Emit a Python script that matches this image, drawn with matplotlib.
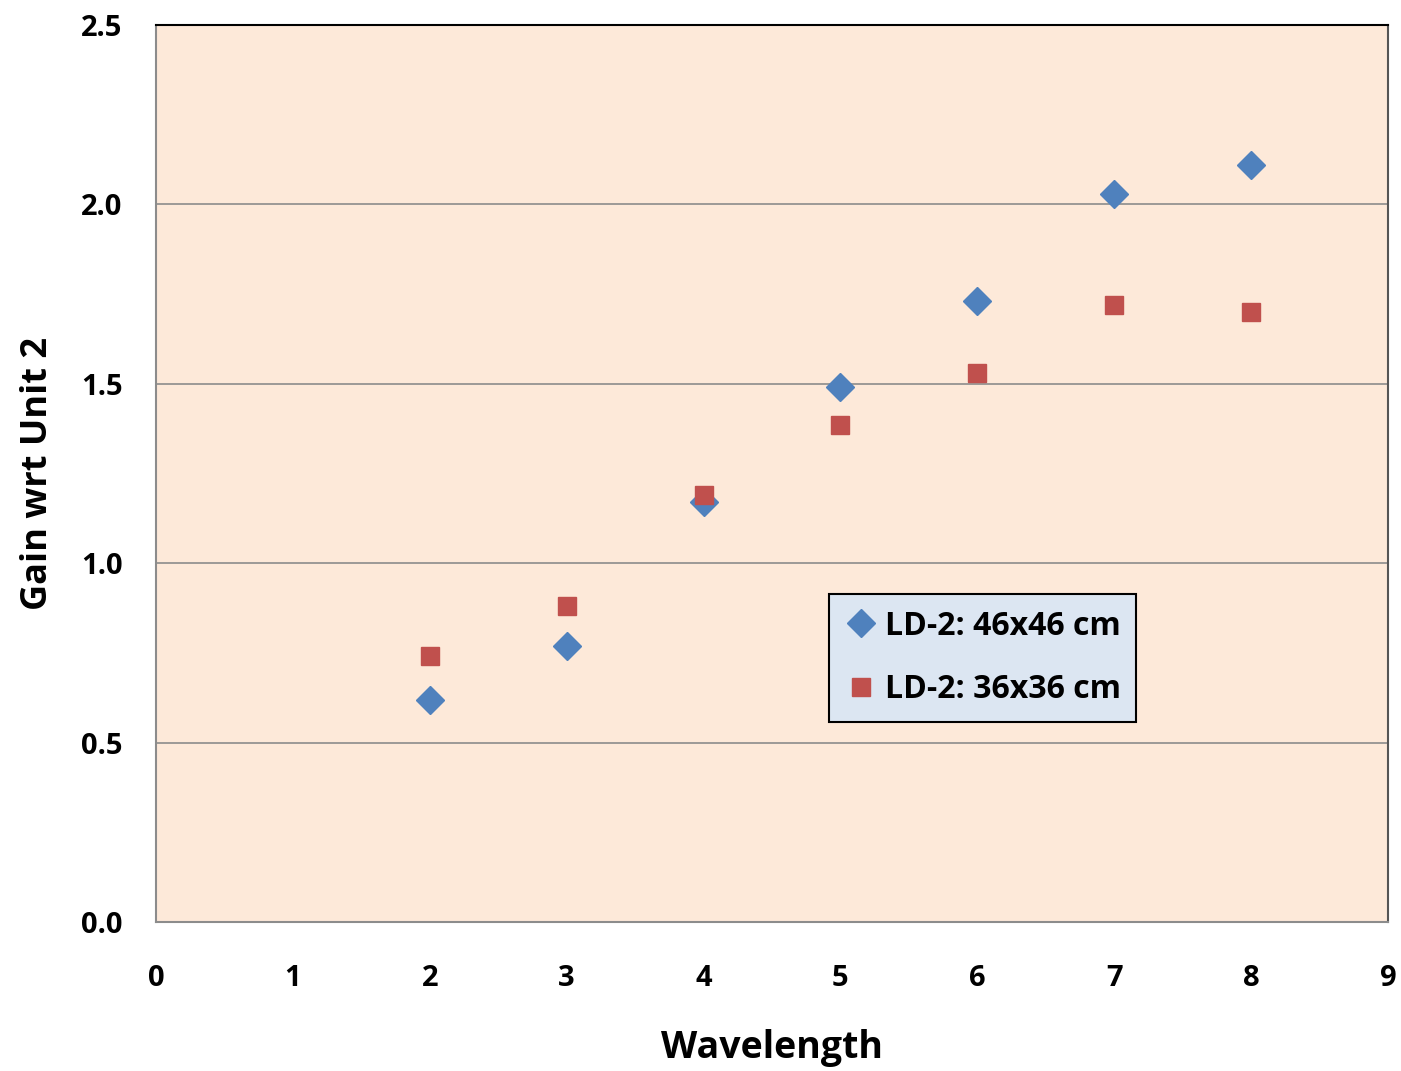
import numpy as np
from matplotlib import pyplot as plt

plt.rcParams['font.family'] = ['Open Sans', 'DejaVu Sans']

wavelength = [2, 3, 4, 5, 6, 7, 8]
gain_46 = [0.62, 0.77, 1.17, 1.49, 1.73, 2.03, 2.11]
gain_36 = [0.74, 0.88, 1.19, 1.385, 1.53, 1.72, 1.70]
labels = ["LD-2: 46x46 cm", "LD-2: 36x36 cm"]

fig = plt.figure(figsize=(14.01, 10.71), dpi=100)
ax = fig.add_axes([0.1113, 0.1391, 0.8794, 0.8376])
ax.set_facecolor("#FDE9D9")

ax.plot(wavelength, gain_46, "D", color="#4F81BD", markersize=14, label=labels[0], zorder=3)
ax.plot(wavelength, gain_36, "s", color="#C0504D", markersize=13, label=labels[1], zorder=3)

ax.set_xlim(0, 9)
ax.set_ylim(0, 2.5)
ax.set_xticks(range(0, 10))
ax.set_yticks(np.arange(0, 2.51, 0.5))
ax.set_yticklabels(["%.1f" % v for v in np.arange(0, 2.51, 0.5)])
ax.yaxis.grid(True, color="#8C8C8C", linewidth=1.2)
ax.set_axisbelow(True)
ax.tick_params(length=0, labelsize=21)
for t in ax.get_xticklabels() + ax.get_yticklabels():
    t.set_fontweight("bold")
ax.tick_params(axis="y", pad=24)
ax.tick_params(axis="x", pad=30)

ax.spines["left"].set_color("#8C8C8C")
ax.spines["bottom"].set_color("#8C8C8C")
ax.spines["top"].set_color("#000000")
ax.spines["right"].set_color("#555555")
for s in ax.spines.values():
    s.set_linewidth(1.5)

ax.set_xlabel("Wavelength", fontsize=27, fontweight="bold", labelpad=26)
ax.set_ylabel("Gain wrt Unit 2", fontsize=26, fontweight="bold", labelpad=18)

leg = ax.legend(loc="upper left", bbox_to_anchor=(0.546, 0.366), fontsize=23, frameon=True,
                fancybox=False, edgecolor="#000000", facecolor="#DCE6F2", framealpha=1,
                handletextpad=0.25, handlelength=1.0, labelspacing=0.95, borderpad=0.5,
                borderaxespad=0)
for t in leg.get_texts():
    t.set_fontweight("bold")
leg.get_frame().set_linewidth(1.5)

plt.savefig("out.png", dpi=100)
